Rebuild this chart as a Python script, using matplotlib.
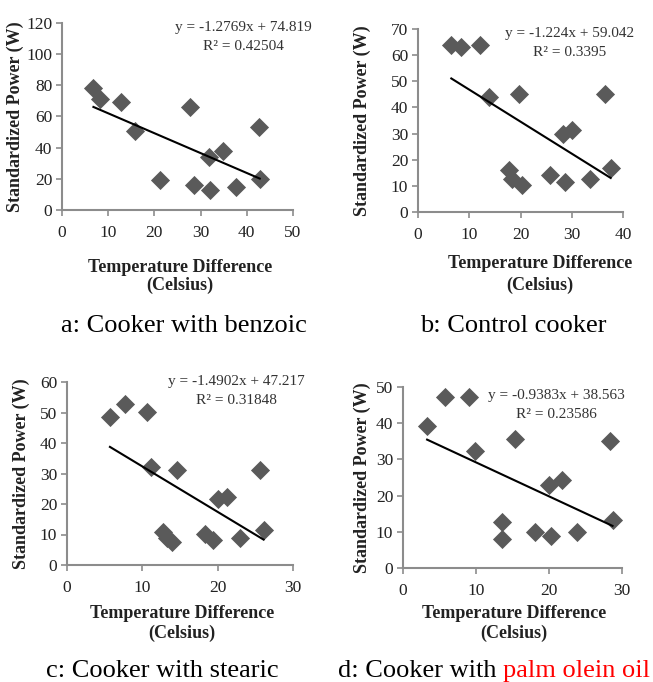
import matplotlib
matplotlib.use("Agg")
import matplotlib.pyplot as plt
import numpy as np

plt.rcParams['font.family'] = ['Liberation Serif', 'DejaVu Serif']

W, H = 653, 682

# ---- data ----
a_x = [6.8, 8.2, 12.8, 15.8, 21.2, 27.8, 28.6, 31.8, 32.0, 34.8, 37.7, 42.7, 42.8]
a_y = [78, 71, 69, 51, 19, 66, 16, 34, 13, 38, 15, 53, 20]
a_slope, a_int, a_r2 = -1.2769, 74.819, "0.42504"

b_x = [6.5, 8.3, 12.0, 13.9, 19.7, 17.8, 18.4, 20.2, 25.7, 28.3, 30.1, 28.7, 33.5, 36.5, 37.6]
b_y = [64, 63.3, 64, 44, 45, 16, 12.5, 10.2, 14, 30, 31.5, 11.5, 12.8, 45, 17]
b_slope, b_int, b_r2 = -1.224, 59.042, "0.3395"

c_x = [5.7, 7.7, 10.6, 11.2, 14.6, 12.8, 13.3, 14.0, 18.3, 19.4, 20.1, 21.3, 22.9, 25.6, 26.1]
c_y = [48.5, 52.8, 50.3, 32, 31.3, 10.8, 8.7, 7.6, 10.2, 8.2, 21.5, 22.2, 9.0, 31.3, 11.5]
c_slope, c_int, c_r2 = -1.4902, 47.217, "0.31848"

d_x = [3.3, 5.8, 9.0, 9.8, 13.5, 13.6, 15.4, 18.1, 20.0, 20.3, 21.8, 23.8, 28.4, 28.7]
d_y = [39.3, 47.3, 47.3, 32.4, 12.6, 8.0, 35.5, 9.9, 22.8, 8.8, 24.4, 9.9, 35.0, 13.2]
d_slope, d_int, d_r2 = -0.9383, 38.563, "0.23586"

panels = [
    dict(x=a_x, y=a_y, m=a_slope, b=a_int, r2=a_r2, box=(62, 23, 293, 210),
         xlim=(0, 50), xticks=[0, 10, 20, 30, 40, 50], ylim=(0, 120),
         yticks=[0, 20, 40, 60, 80, 100, 120], ylab_x=15, xlab_y=(267, 285),
         xlab_cx=180, eq=(243, 28, 47)),
    dict(x=b_x, y=b_y, m=b_slope, b=b_int, r2=b_r2, box=(418, 29, 623, 212),
         xlim=(0, 40), xticks=[0, 10, 20, 30, 40], ylim=(0, 70),
         yticks=[0, 10, 20, 30, 40, 50, 60, 70], ylab_x=362, xlab_y=(263, 285),
         xlab_cx=540, eq=(570, 33, 52)),
    dict(x=c_x, y=c_y, m=c_slope, b=c_int, r2=c_r2, box=(67, 382, 293, 565),
         xlim=(0, 30), xticks=[0, 10, 20, 30], ylim=(0, 60),
         yticks=[0, 10, 20, 30, 40, 50, 60], ylab_x=21, xlab_y=(613, 633),
         xlab_cx=182, eq=(236, 382, 401)),
    dict(x=d_x, y=d_y, m=d_slope, b=d_int, r2=d_r2, box=(403, 387, 622, 568),
         xlim=(0, 30), xticks=[0, 10, 20, 30], ylim=(0, 50),
         yticks=[0, 10, 20, 30, 40, 50], ylab_x=362, xlab_y=(613, 633),
         xlab_cx=514, eq=(556, 395, 415)),
]

captions = [("a: Cooker with benzoic", 184, 332), ("b: Control cooker", 513, 332),
            ("c: Cooker with stearic", 162, 677)]

fig = plt.figure(figsize=(W / 100, H / 100), dpi=100)
fig.patch.set_facecolor('white')

def fx(px):
    return px / W

def fy(py):
    return 1 - py / H

grey = '#8c8c8c'
txt = '#222222'
for p in panels:
    x0, y0, x1, y1 = p['box']
    ax = fig.add_axes([fx(x0), fy(y1), (x1 - x0) / W, (y1 - y0) / H])
    ax.scatter(p['x'], p['y'], marker='D', s=95, color='#5a5a5a', zorder=3, linewidths=0)
    xs = np.array([min(p['x']), max(p['x'])])
    ax.plot(xs, p['m'] * xs + p['b'], color='black', lw=1.5, zorder=4)
    ax.set_xlim(*p['xlim'])
    ax.set_ylim(*p['ylim'])
    ax.set_xticks(p['xticks'])
    ax.set_yticks(p['yticks'])
    for s in ['top', 'right']:
        ax.spines[s].set_visible(False)
    for s in ['left', 'bottom']:
        ax.spines[s].set_color(grey)
        ax.spines[s].set_linewidth(1.5)
    ax.tick_params(direction='out', length=4, width=1.2, color=grey,
                   labelsize=12.5, labelcolor=txt, pad=3)
    ax.tick_params(axis='x', pad=7)
    ax.set_facecolor('none')
    fig.text(fx(p['ylab_x']), fy((y0 + y1) / 2), 'Standardized Power (W)', rotation=90,
             ha='center', va='center', fontsize=13, fontweight='bold', color=txt)
    fig.text(fx(p['xlab_cx']), fy(p['xlab_y'][0]), 'Temperature Difference',
             ha='center', va='center', fontsize=13, fontweight='bold', color=txt)
    fig.text(fx(p['xlab_cx']), fy(p['xlab_y'][1]), '(Celsius)',
             ha='center', va='center', fontsize=13, fontweight='bold', color=txt)
    sign = '-' if p['b'] < 0 else '+'
    fig.text(fx(p['eq'][0]), fy(p['eq'][1]), f"y = {p['m']}x {sign} {abs(p['b'])}",
             ha='center', va='center', fontsize=11, color='#333333')
    fig.text(fx(p['eq'][0]), fy(p['eq'][2]), f"R\u00b2 = {p['r2']}",
             ha='center', va='center', fontsize=11, color='#333333')

for t, cx, cy in captions:
    fig.text(fx(cx), fy(cy), t, ha='center', va='baseline', fontsize=19, color='black')

fig.text(fx(496), fy(677), 'd: Cooker with', ha='right', va='baseline', fontsize=19, color='black')
fig.text(fx(503), fy(677), 'palm olein oil', ha='left', va='baseline', fontsize=19, color='#ff0000')

fig.savefig('out.png', dpi=100, facecolor='white')
